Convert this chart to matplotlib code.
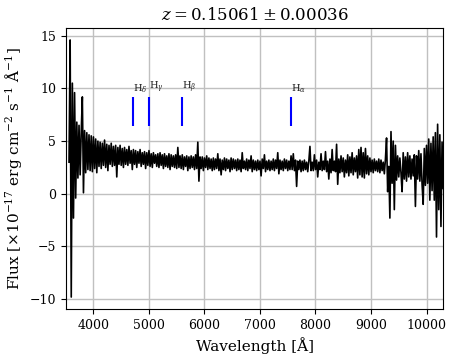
import numpy as np
import matplotlib
matplotlib.use("Agg")
import matplotlib.pyplot as plt

plt.rcParams['font.family'] = ['DejaVu Serif']
plt.rcParams['mathtext.fontset'] = 'dejavuserif'

wave_start, wave_stop, wave_step = 3560, 10300, 20
flux = [
    3.0, 14.6, -9.8, 10.5, -2.3, 9.6, -0.4, 6.8, 1.5, 6.5,
    1.8, 5.9, 9.2, 0.1, 6.0, 2.0, 5.8, 2.3, 5.6, 2.2,
    5.5, 2.1, 5.4, 2.4, 5.2, 2.0, 5.0, 2.6, 4.9, 2.4,
    4.8, 2.7, 5.1, 2.5, 4.7, 2.2, 4.6, 2.8, 4.8, 2.6,
    4.5, 2.7, 4.6, 1.6, 4.4, 2.8, 4.6, 2.7, 4.3, 2.5,
    4.4, 2.8, 4.2, 2.7, 4.5, 2.9, 4.1, 2.3, 4.2, 2.8,
    4.1, 2.5, 4.0, 2.9, 4.2, 2.6, 3.9, 2.8, 4.0, 2.4,
    3.9, 2.7, 4.1, 2.6, 3.8, 2.5, 3.9, 2.9, 3.7, 2.6,
    3.8, 2.5, 3.9, 2.7, 3.7, 2.4, 3.8, 2.6, 3.6, 2.5,
    3.8, 2.3, 3.7, 2.6, 3.6, 2.5, 3.7, 2.4, 4.4, 2.5,
    3.6, 2.4, 3.7, 2.3, 3.5, 2.6, 3.6, 2.2, 3.5, 2.4,
    3.6, 2.5, 3.5, 2.3, 3.7, 2.4, 4.9, 1.2, 3.5, 2.4,
    3.5, 2.2, 3.4, 2.5, 3.6, 2.3, 3.4, 2.4, 3.3, 2.2,
    3.4, 2.3, 3.3, 2.4, 3.8, 2.2, 3.3, 1.8, 3.2, 2.3,
    3.4, 2.2, 3.3, 2.4, 3.2, 2.1, 3.4, 2.3, 3.3, 2.4,
    3.2, 2.2, 3.3, 2.3, 3.2, 2.1, 3.9, 2.4, 3.1, 2.3,
    3.3, 2.2, 3.2, 2.4, 3.6, 2.1, 3.2, 2.3, 3.1, 2.2,
    3.2, 2.3, 3.1, 1.7, 3.3, 2.4, 3.7, 2.1, 3.1, 2.3,
    3.2, 2.2, 3.1, 2.3, 3.3, 2.2, 3.2, 2.4, 3.9, 1.9,
    3.2, 2.3, 3.1, 2.2, 3.3, 2.4, 3.2, 2.2, 3.1, 2.3,
    3.6, 2.3, 3.8, 2.2, 3.2, 0.7, 3.1, 2.3, 3.2, 2.1,
    3.1, 2.2, 3.2, 2.3, 3.0, 2.1, 3.1, 4.5, 2.2, 3.0,
    2.2, 3.7, 2.3, 3.2, 1.6, 3.0, 2.3, 3.8, 2.2, 3.1,
    2.3, 4.0, 2.1, 3.1, 1.4, 3.3, 2.0, 4.2, 2.2, 3.1,
    2.1, 4.7, 0.9, 3.3, 2.0, 3.6, 2.1, 3.4, 1.6, 3.2,
    2.0, 3.7, 1.7, 3.5, 2.0, 3.9, 1.8, 3.4, 2.1, 3.6,
    1.5, 4.2, 1.8, 4.4, 1.6, 3.9, 1.5, 4.3, 1.9, 3.6,
    1.8, 3.4, 2.1, 3.2, 2.0, 3.3, 2.2, 3.1, 2.1, 3.3,
    2.0, 3.2, 2.2, 3.0, 1.9, 3.3, 5.3, 0.2, 2.6, -2.3,
    5.9, 1.0, 5.0, -1.5, 4.6, 1.3, 3.6, 1.6, 3.4, 2.0,
    0.2, 3.9, 1.4, 3.5, 1.2, 3.9, 1.6, 3.6, 1.4, 3.3,
    1.7, 3.7, -1.2, 3.6, 1.4, 4.1, 1.2, 3.8, 0.9, -1.0,
    4.3, 0.8, 4.6, 1.0, 5.2, -0.6, 4.8, 0.3, 5.4, -0.6,
    5.8, -4.1, 6.6, -1.5, 5.6, -3.1, 4.9, 0.5,
]
wave = np.arange(wave_start, wave_stop + wave_step, wave_step)

# Emission line markers (observed wavelengths at z = 0.15061)
line_names = [r'H$_\delta$', r'H$_\gamma$', r'H$_\beta$', r'H$_\alpha$']
line_waves = [4720, 4995, 5593, 7551]
line_ymin, line_ymax = 6.4, 9.2

fig = plt.figure(figsize=(4.55, 3.62), dpi=100)
ax = fig.add_axes([0.145, 0.146, 0.829, 0.777])
ax.plot(wave, flux, color='black', lw=1.2, zorder=3)
ax.vlines(line_waves, line_ymin, line_ymax, colors='blue', lw=1.5, zorder=4)
for name, lw_ in zip(line_names, line_waves):
    ax.text(lw_, line_ymax + 0.15, name, fontsize=7, ha='left', va='bottom', color='#222222')

ax.set_xlim(3505, 10300)
ax.set_ylim(-10.95, 15.75)
ax.set_xticks([4000, 5000, 6000, 7000, 8000, 9000, 10000])
ax.set_yticks([-10, -5, 0, 5, 10, 15])
ax.grid(True, color='#c0c0c0', lw=1.0, zorder=0)
ax.set_axisbelow(True)
ax.tick_params(labelsize=9)
ax.set_xlabel('Wavelength [Å]', fontsize=11)
ax.set_ylabel(r'Flux [$\times10^{-17}$ erg cm$^{-2}$ s$^{-1}$ Å$^{-1}$]', fontsize=11)
ax.set_title(r'$z = 0.15061 \pm 0.00036$', fontsize=12)

fig.savefig('out.png', dpi=100)
